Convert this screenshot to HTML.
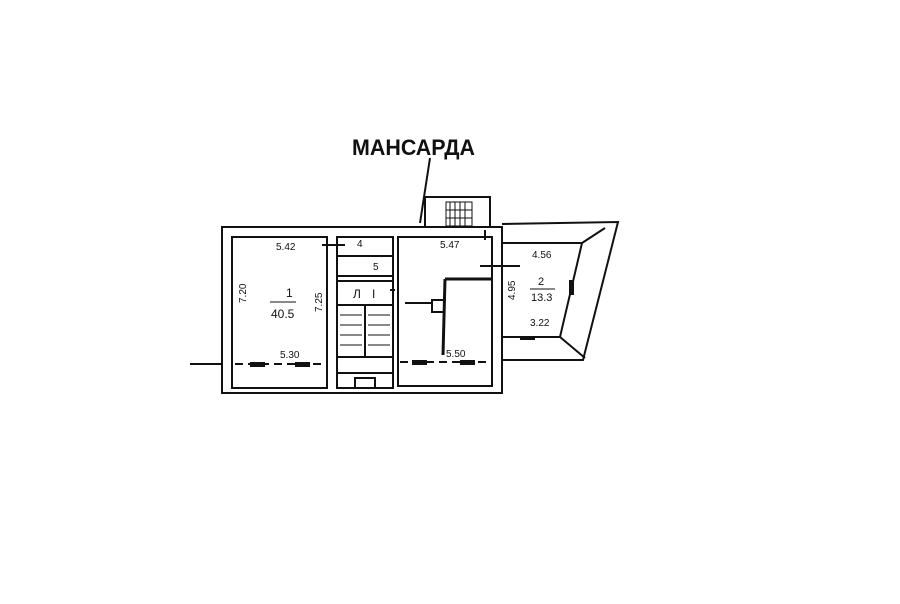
<!DOCTYPE html>
<html><head><meta charset="utf-8"><style>
html,body{margin:0;padding:0;background:#fff;width:900px;height:604px;overflow:hidden}
svg{display:block}
text{font-family:"Liberation Sans",sans-serif;fill:#111}
</style></head><body>
<svg width="900" height="604" viewBox="0 0 900 604" xmlns="http://www.w3.org/2000/svg">
<g stroke="#111" fill="none" stroke-width="2">
<!-- main outer -->
<rect x="222" y="227" width="280" height="166"/>
<!-- room 1 -->
<rect x="232" y="237" width="95" height="151"/>
<!-- stair/corridor core -->
<rect x="337" y="237" width="56" height="151"/>
<!-- right room -->
<rect x="398" y="237" width="94" height="149"/>
<!-- bathroom -->
<rect x="337" y="256" width="56" height="20"/>
<!-- stairs -->
<rect x="337" y="281" width="56" height="92"/>
<line x1="337" y1="305" x2="393" y2="305"/>
<line x1="337" y1="357" x2="393" y2="357"/>
<line x1="365" y1="305" x2="365" y2="357"/>
<rect x="355" y="378" width="20" height="10"/>
<!-- dashed lines -->
<line x1="235" y1="364" x2="325" y2="364" stroke-dasharray="8,5"/>
<line x1="400" y1="362" x2="490" y2="362" stroke-dasharray="8,5"/>
<line x1="190" y1="364" x2="222" y2="364"/>
<!-- wall pieces -->
<line x1="322" y1="245" x2="345" y2="245"/>
<line x1="480" y1="266" x2="510" y2="266"/>
<line x1="445" y1="279" x2="492" y2="279" stroke-width="3"/>
<line x1="445" y1="279" x2="443" y2="355" stroke-width="3"/>
<rect x="432" y="300" width="12" height="12"/>
<line x1="405" y1="303" x2="432" y2="303"/>
<line x1="390" y1="290" x2="395" y2="290"/>
<line x1="485" y1="230" x2="485" y2="240"/>
<!-- mansard box -->
<rect x="425" y="197" width="65" height="30"/>
<line x1="430" y1="158" x2="420" y2="223"/>
<!-- room 2 outer -->
<polyline points="502,224 618,222 583,360 502,360"/>
<polygon points="502,243 582,243 560,337 502,337"/>
<line x1="582" y1="243" x2="605" y2="228"/>
<line x1="560" y1="337" x2="585" y2="358"/>
<line x1="502" y1="266" x2="520" y2="266"/>
</g>
<g fill="#111">
<rect x="446" y="202" width="26" height="24" fill="none" stroke="#111" stroke-width="1"/>
<g stroke="#111" stroke-width="1"><line x1="450" y1="202" x2="450" y2="226"/><line x1="455" y1="202" x2="455" y2="226"/><line x1="460" y1="202" x2="460" y2="226"/><line x1="465" y1="202" x2="465" y2="226"/><line x1="446" y1="210" x2="472" y2="210"/><line x1="446" y1="218" x2="472" y2="218"/>
<line x1="340" y1="315" x2="362" y2="315"/><line x1="340" y1="325" x2="362" y2="325"/><line x1="340" y1="335" x2="362" y2="335"/><line x1="340" y1="345" x2="362" y2="345"/>
<line x1="368" y1="315" x2="390" y2="315"/><line x1="368" y1="325" x2="390" y2="325"/><line x1="368" y1="335" x2="390" y2="335"/><line x1="368" y1="345" x2="390" y2="345"/></g>
<rect x="250" y="362" width="15" height="5"/><rect x="295" y="362" width="15" height="5"/>
<rect x="412" y="360" width="15" height="5"/><rect x="460" y="360" width="15" height="5"/>
<rect x="569" y="280" width="5" height="15"/><rect x="520" y="336" width="15" height="4"/>
</g>
<text x="352" y="155" font-size="22" font-weight="bold" textLength="123" lengthAdjust="spacingAndGlyphs">МАНСАРДА</text>
<g font-size="10">
<text x="276" y="250">5.42</text>
<text x="440" y="248">5.47</text>
<text x="280" y="358">5.30</text>
<text x="446" y="357">5.50</text>
<text x="532" y="258">4.56</text>
<text x="530" y="326">3.22</text>
<text x="357" y="247">4</text>
<text x="373" y="270">5</text>
<text x="286" y="297" font-size="12">1</text>
<text x="271" y="318" font-size="12">40.5</text>
<text x="538" y="285" font-size="11">2</text>
<text x="531" y="301" font-size="11">13.3</text>
<text x="353" y="298" font-size="12">Л</text>
<text x="372" y="298" font-size="12">I</text>
<text transform="translate(246,303) rotate(-90)">7.20</text>
<text transform="translate(322,312) rotate(-90)">7.25</text>
<text transform="translate(515,300) rotate(-90)">4.95</text>
</g>
<line x1="270" y1="302" x2="296" y2="302" stroke="#111" stroke-width="1"/>
<line x1="530" y1="289" x2="555" y2="289" stroke="#111" stroke-width="1"/>
</svg>
</body></html>
